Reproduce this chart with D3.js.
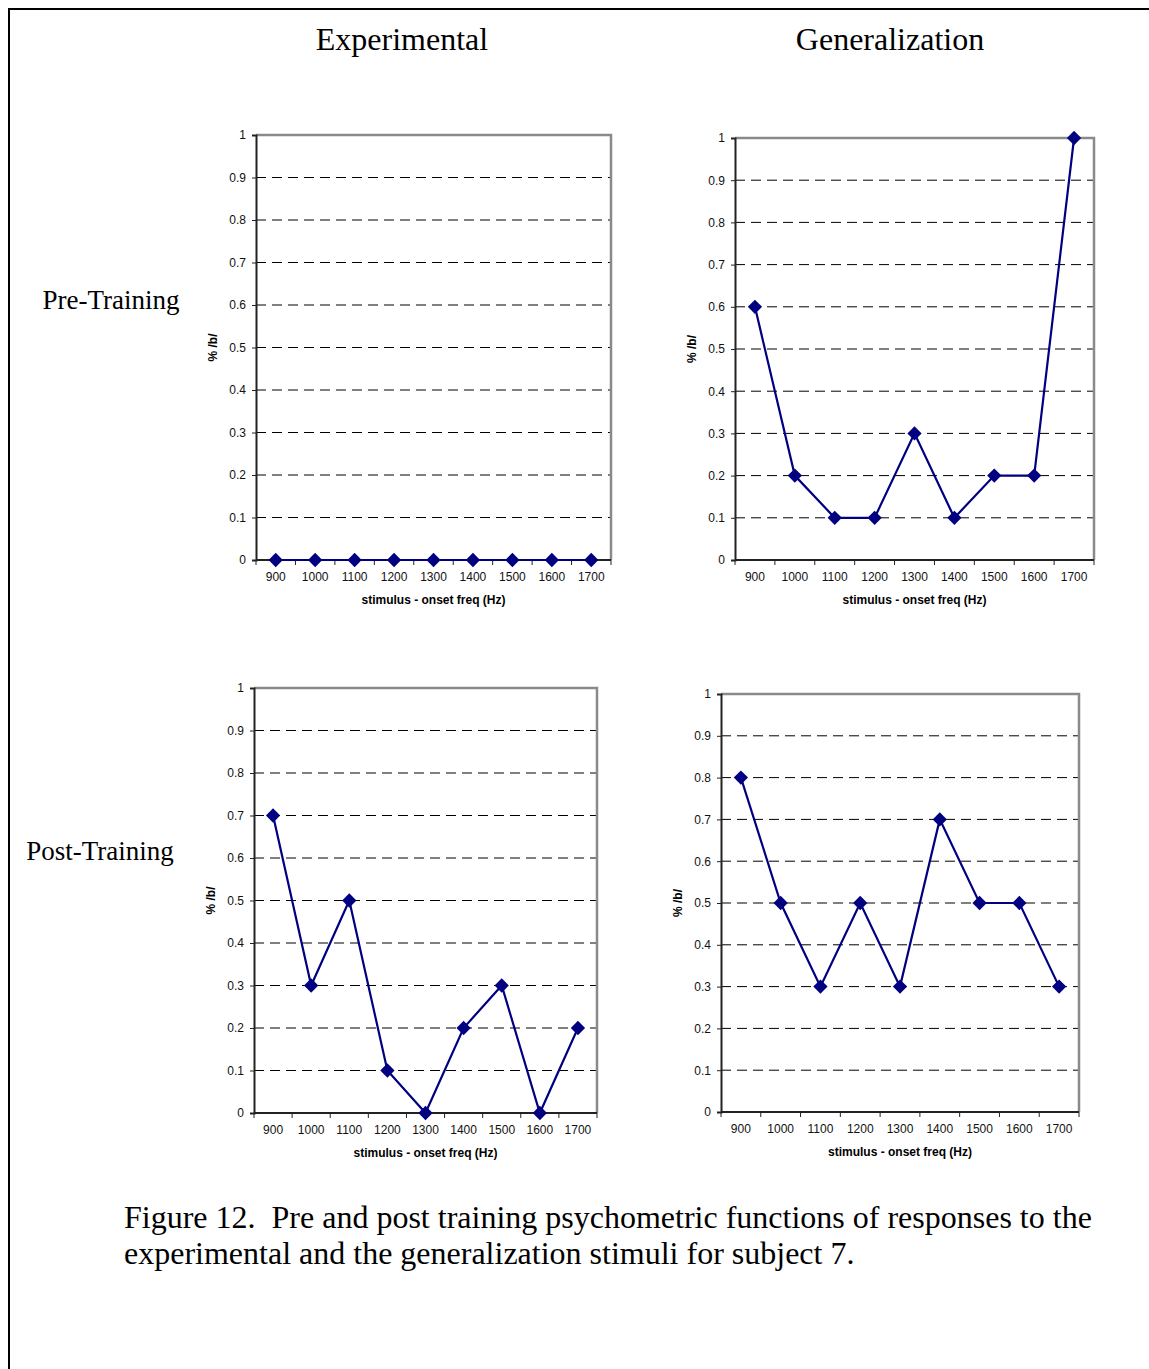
<!DOCTYPE html>
<html>
<head>
<meta charset="utf-8">
<script src="https://cdn.jsdelivr.net/npm/d3@7"></script>
<style>
  body { margin: 0; background: white; }
</style>
</head>
<body>
<script>
// data
let freqs = ["900", "1000", "1100", "1200", "1300", "1400", "1500", "1600", "1700"]
let preExperimental = [0, 0, 0, 0, 0, 0, 0, 0, 0]
let preGeneralization = [0.6, 0.2, 0.1, 0.1, 0.3, 0.1, 0.2, 0.2, 1.0]
let postExperimental = [0.7, 0.3, 0.5, 0.1, 0, 0.2, 0.3, 0, 0.2]
let postGeneralization = [0.8, 0.5, 0.3, 0.5, 0.3, 0.7, 0.5, 0.5, 0.3]
let yTicks = [0, 0.1, 0.2, 0.3, 0.4, 0.5, 0.6, 0.7, 0.8, 0.9, 1]
let columnTitles = ["Experimental", "Generalization"]
let rowTitles = ["Pre-Training", "Post-Training"]

let svg = d3.select("body")
  .append("svg")
    .attr("width", 1149)
    .attr("height", 1369)

// page frame (top + left edges)
svg.append("path")
    .attr("d", "M9,1369 V9 H1149")
    .attr("fill", "none")
    .attr("stroke", "black")
    .attr("stroke-width", 2)

svg.selectAll(".coltitle")
  .data(columnTitles)
  .enter().append("text")
    .attr("x", (d, i) => [402, 890][i])
    .attr("y", 50)
    .attr("text-anchor", "middle")
    .style("font-family", "'Liberation Serif', 'Times New Roman', serif")
    .style("font-size", "32px")
    .text(d => d)

svg.selectAll(".rowtitle")
  .data(rowTitles)
  .enter().append("text")
    .attr("x", (d, i) => [111, 100][i])
    .attr("y", (d, i) => [309, 860][i])
    .attr("text-anchor", "middle")
    .style("font-family", "'Liberation Serif', 'Times New Roman', serif")
    .style("font-size", "27px")
    .text(d => d)

let caption = svg.append("text")
    .style("font-family", "'Liberation Serif', 'Times New Roman', serif")
    .style("font-size", "32px")
    .style("white-space", "pre")
caption.append("tspan").attr("x", 124).attr("y", 1228)
    .text("Figure 12.  Pre and post training psychometric functions of responses to the")
caption.append("tspan").attr("x", 124).attr("y", 1264)
    .text("experimental and the generalization stimuli for subject 7.")

let panels = [
  {values: preExperimental, x0: 256, x1: 611, top: 135, bottom: 560},
  {values: preGeneralization, x0: 735, x1: 1094, top: 138, bottom: 560},
  {values: postExperimental, x0: 254, x1: 597, top: 688, bottom: 1113},
  {values: postGeneralization, x0: 721, x1: 1079, top: 694, bottom: 1112}
]

for (let p of panels) {
  let x = d3.scaleBand().domain(freqs).range([p.x0, p.x1])
  let y = d3.scaleLinear().domain([0, 1]).range([p.bottom, p.top])
  let g = svg.append("g")

  // dashed gridlines
  g.selectAll(".grid")
    .data(yTicks.filter(t => t > 0 && t < 1))
    .enter().append("line")
      .attr("x1", p.x0).attr("x2", p.x1)
      .attr("y1", d => y(d)).attr("y2", d => y(d))
      .attr("stroke", "black")
      .attr("stroke-width", 1)
      .attr("stroke-dasharray", "10,6")

  // gray top and right frame
  g.append("path")
      .attr("d", `M${p.x0},${y(1)} H${p.x1} V${y(0)}`)
      .attr("fill", "none")
      .attr("stroke", "#8a8a8a")
      .attr("stroke-width", 2.5)

  // y axis
  let ya = g.append("g")
      .attr("transform", `translate(${p.x0},0)`)
      .call(d3.axisLeft(y).tickValues(yTicks).tickSize(4).tickPadding(6).tickFormat(d => String(d)))
  ya.select(".domain").attr("stroke", "#222").attr("stroke-width", 2)
  ya.selectAll(".tick line").attr("stroke", "#222")
  ya.selectAll("text")
      .style("font-family", "'Liberation Sans', Arial, sans-serif")
      .style("font-size", "12px")
      .attr("fill", "#111")

  // x axis: labels under each category, ticks on category edges
  let xa = g.append("g")
      .attr("transform", `translate(0,${p.bottom})`)
      .call(d3.axisBottom(x).tickSize(0).tickPadding(12))
  xa.select(".domain").remove()
  xa.selectAll("text")
      .style("font-family", "'Liberation Sans', Arial, sans-serif")
      .style("font-size", "12px")
      .attr("fill", "#111")
  g.append("line")
      .attr("x1", p.x0).attr("x2", p.x1)
      .attr("y1", p.bottom).attr("y2", p.bottom)
      .attr("stroke", "#222")
      .attr("stroke-width", 2)
  g.selectAll(".xtick")
    .data(freqs.map(f => x(f)).concat([p.x1]))
    .enter().append("line")
      .attr("x1", d => d).attr("x2", d => d)
      .attr("y1", p.bottom).attr("y2", p.bottom + 5)
      .attr("stroke", "#222")

  // axis titles
  g.append("text")
      .attr("x", (p.x0 + p.x1) / 2)
      .attr("y", p.bottom + 44)
      .attr("text-anchor", "middle")
      .style("font-family", "'Liberation Sans', Arial, sans-serif")
      .style("font-size", "12px")
      .style("font-weight", "bold")
      .text("stimulus - onset freq (Hz)")
  g.append("text")
      .attr("transform", `translate(${p.x0 - 39},${(p.top + p.bottom) / 2}) rotate(-90)`)
      .attr("text-anchor", "middle")
      .style("font-family", "'Liberation Sans', Arial, sans-serif")
      .style("font-size", "12px")
      .style("font-weight", "bold")
      .text("% /b/")

  // series line and diamond markers
  let line = d3.line()
    .x((d, i) => x(freqs[i]) + x.bandwidth() / 2)
    .y(d => y(d))
  g.append("path")
      .attr("d", line(p.values))
      .attr("fill", "none")
      .attr("stroke", "#000080")
      .attr("stroke-width", 2.2)
  g.selectAll(".pt")
    .data(p.values)
    .enter().append("path")
      .attr("d", d3.symbol(d3.symbolDiamond2, 130))
      .attr("transform", (d, i) => `translate(${x(freqs[i]) + x.bandwidth() / 2},${y(d)})`)
      .attr("fill", "#000080")
}
</script>
</body>
</html>
